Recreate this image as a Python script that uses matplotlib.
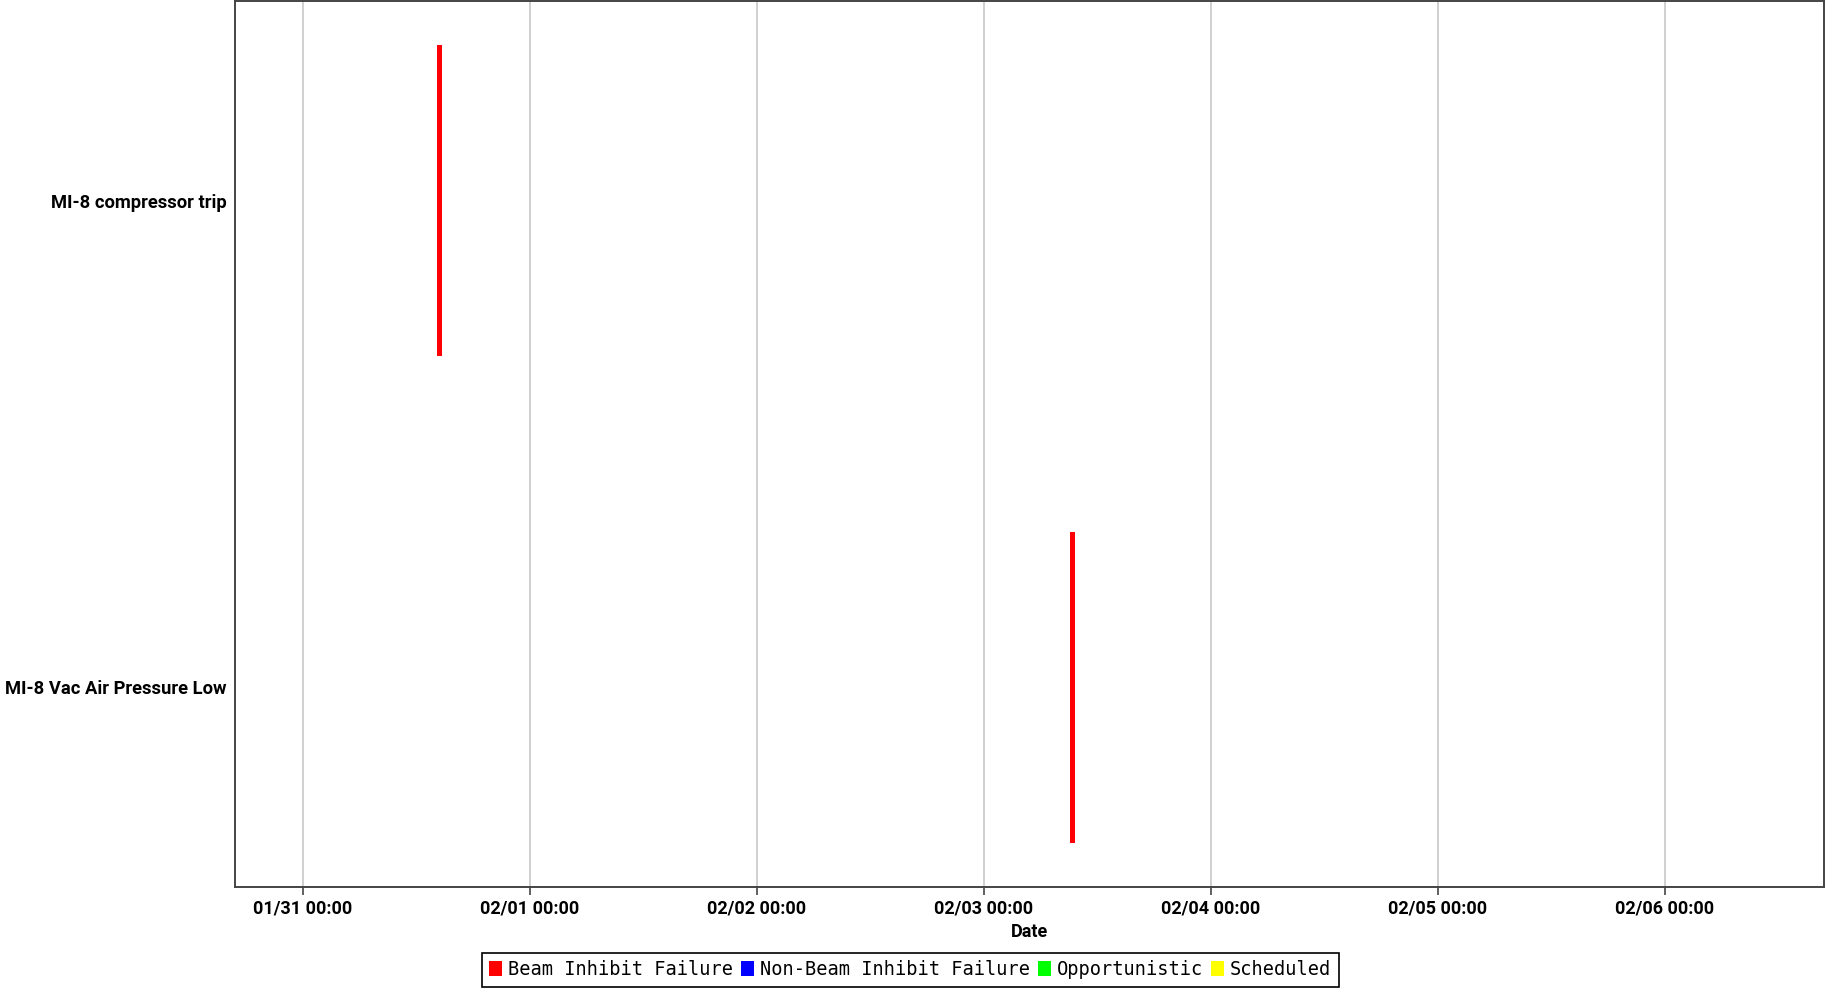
import datetime as dt
import matplotlib
matplotlib.use('Agg')
import matplotlib.pyplot as plt
import matplotlib.dates as mdates
from matplotlib.patches import Patch

# downtime events
events = ['MI-8 compressor trip', 'MI-8 Vac Air Pressure Low']
starts = [dt.datetime(2023, 1, 31, 14, 10), dt.datetime(2023, 2, 3, 9, 10)]
durations_min = [30, 30]
kinds = ['Beam Inhibit Failure', 'Beam Inhibit Failure']

legend_names = ['Beam Inhibit Failure', 'Non-Beam Inhibit Failure', 'Opportunistic', 'Scheduled']
legend_colors = ['#ff0000', '#0000ff', '#00ff00', '#ffff00']
kind_color = dict(zip(legend_names, legend_colors))

x_min = dt.datetime(2023, 1, 30, 16, 50)
x_max = dt.datetime(2023, 2, 6, 16, 50)


def main():
    plt.rcParams['font.family'] = ['Roboto', 'DejaVu Sans']
    fig = plt.figure(figsize=(18.26, 9.89), dpi=100)
    ax = fig.add_axes([0.1287, 0.1031, 0.8702, 0.8959])

    for i, name in enumerate(events):
        left = mdates.date2num(starts[i])
        width = durations_min[i] / (24 * 60)
        ax.barh(i, width, left=left, height=0.64, color=kind_color[kinds[i]], zorder=3)

    ax.set_yticks(range(len(events)))
    ax.set_yticklabels(events, fontsize=13.2, fontweight='bold')
    ax.set_ylim(len(events) - 1 + 0.41, -0.41)
    ax.tick_params(axis='y', length=0, pad=6)

    ax.set_xlim(mdates.date2num(x_min), mdates.date2num(x_max))
    ax.xaxis.set_major_locator(mdates.DayLocator())
    ax.xaxis.set_major_formatter(mdates.DateFormatter('%m/%d %H:%M'))
    ax.tick_params(axis='x', length=6, width=1.2, color='#444444', labelsize=13, pad=3)
    for lbl in ax.get_xticklabels():
        lbl.set_fontweight('bold')
    ax.grid(axis='x', color='#c8c8c8', linewidth=1.2, zorder=0)
    ax.set_xlabel('Date', fontsize=13, fontweight='bold', labelpad=4)

    for sp in ax.spines.values():
        sp.set_color('#444444')
        sp.set_linewidth(1.4)

    handles = [Patch(facecolor=c, edgecolor='none') for c in legend_colors]
    leg = fig.legend(handles, legend_names, loc='lower center', bbox_to_anchor=(0.4985, -0.007),
                     ncol=4, fancybox=False, edgecolor='black', framealpha=1,
                     handlelength=0.7, handleheight=0.9, handletextpad=0.3, columnspacing=0.45,
                     borderpad=0.4, prop={'family': 'DejaVu Sans Mono', 'size': 13.4})
    leg.get_frame().set_linewidth(1.2)

    fig.savefig('out.png', dpi=100)


if __name__ == "__main__":
    main()
